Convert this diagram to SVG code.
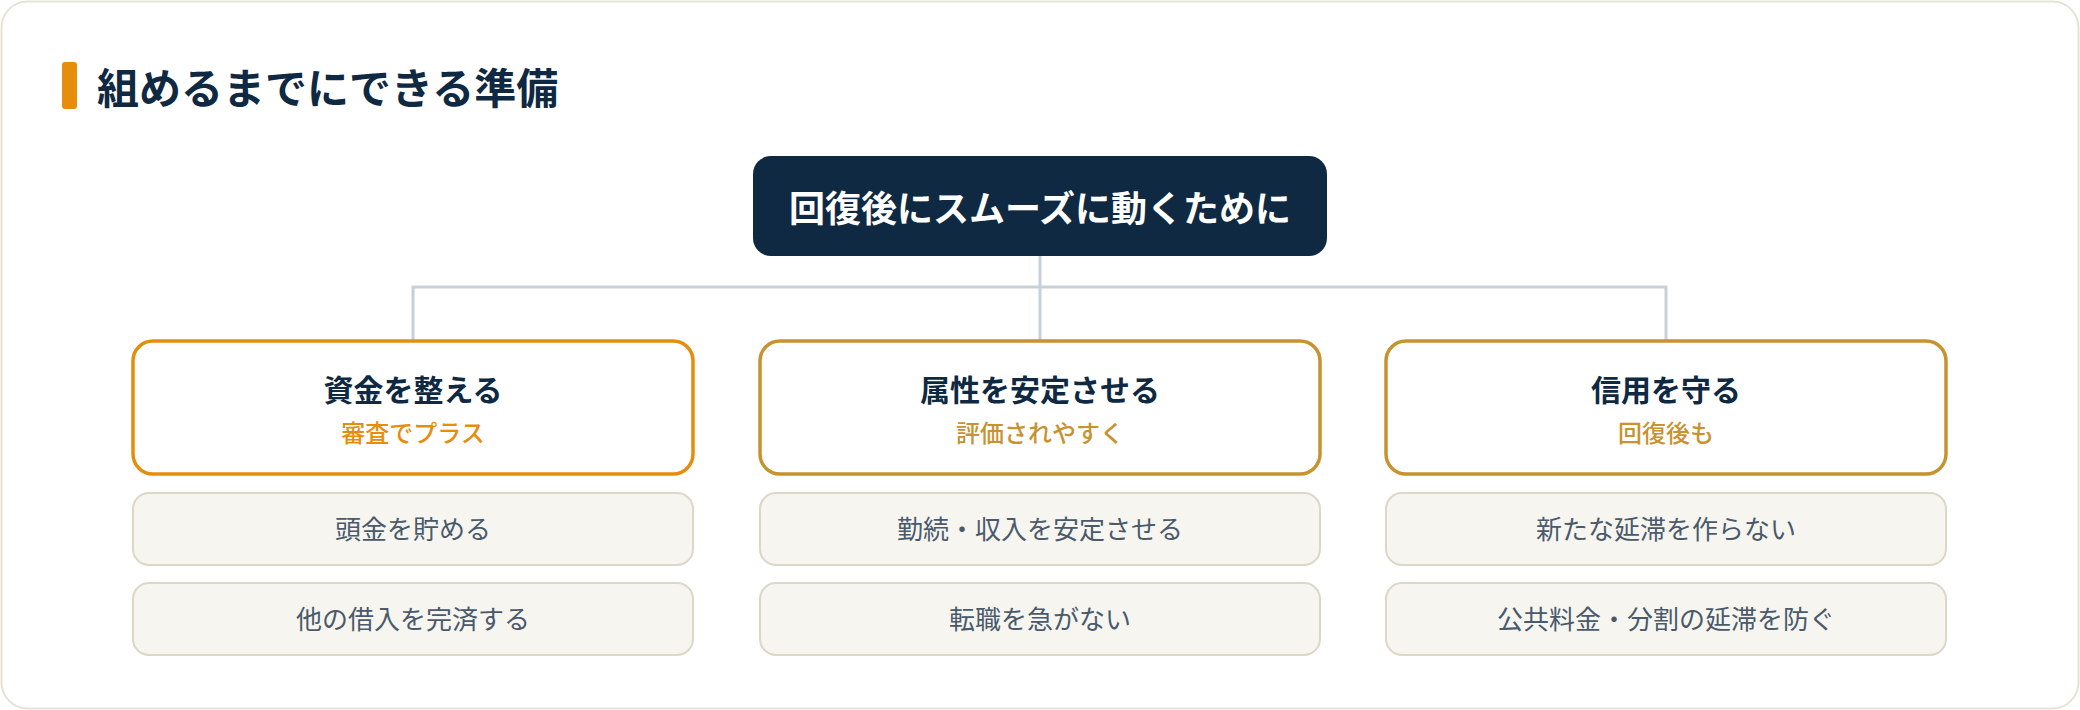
<svg xmlns="http://www.w3.org/2000/svg" width="2080" height="710" viewBox="0 0 2080 710">
<style>
text{font-family:"Noto Sans CJK JP","Noto Sans",sans-serif;text-anchor:middle}
.title{font-size:42px;font-weight:700;fill:#0f2942;text-anchor:start}
.root-t{font-size:36px;font-weight:700;fill:#ffffff}
.cat{fill:#ffffff;stroke-width:3.5}
.cat-t{font-size:30px;font-weight:700;fill:#0f2942}
.sub{font-size:24px;font-weight:500}
.item{fill:#f6f5f0;stroke:#dcd8c8;stroke-width:2}
.item-t{font-size:26px;font-weight:400;fill:#4a5a6b}
.conn{fill:none;stroke:#c9cfd8;stroke-width:3}
</style>
<rect x="1.5" y="1.5" width="2077" height="707" rx="26" fill="#ffffff" stroke="#e6e3d6" stroke-width="2"/>
<g id="heading">
<rect x="62" y="62" width="15" height="47" rx="3" fill="#e68d0c"/>
<text class="title" x="97" y="104">組めるまでにできる準備</text>
</g>
<g id="connectors">
<path class="conn" d="M1040 256 V287 M413 342 V287 H1666 V342 M1040 287 V342"/>
</g>
<g id="root">
<rect x="753" y="156" width="574" height="100" rx="18" fill="#0f2942"/>
<text class="root-t" x="1040" y="222">回復後にスムーズに動くために</text>
</g>
<g id="cat1">
<rect class="cat" x="133" y="341" width="560" height="133" rx="20" stroke="#e68d0c"/>
<text class="cat-t" x="413" y="401">資金を整える</text>
<text class="sub" x="413" y="442" fill="#e68d0c">審査でプラス</text>
</g>
<g id="cat2">
<rect class="cat" x="760" y="341" width="560" height="133" rx="20" stroke="#c8922f"/>
<text class="cat-t" x="1040" y="401">属性を安定させる</text>
<text class="sub" x="1040" y="442" fill="#c8922f">評価されやすく</text>
</g>
<g id="cat3">
<rect class="cat" x="1386" y="341" width="560" height="133" rx="20" stroke="#c8922f"/>
<text class="cat-t" x="1666" y="401">信用を守る</text>
<text class="sub" x="1666" y="442" fill="#c8922f">回復後も</text>
</g>
<g id="item1a">
<rect class="item" x="133" y="493" width="560" height="72" rx="16"/>
<text class="item-t" x="413" y="539">頭金を貯める</text>
</g>
<g id="item1b">
<rect class="item" x="133" y="583" width="560" height="72" rx="16"/>
<text class="item-t" x="413" y="629">他の借入を完済する</text>
</g>
<g id="item2a">
<rect class="item" x="760" y="493" width="560" height="72" rx="16"/>
<text class="item-t" x="1040" y="539">勤続・収入を安定させる</text>
</g>
<g id="item2b">
<rect class="item" x="760" y="583" width="560" height="72" rx="16"/>
<text class="item-t" x="1040" y="629">転職を急がない</text>
</g>
<g id="item3a">
<rect class="item" x="1386" y="493" width="560" height="72" rx="16"/>
<text class="item-t" x="1666" y="539">新たな延滞を作らない</text>
</g>
<g id="item3b">
<rect class="item" x="1386" y="583" width="560" height="72" rx="16"/>
<text class="item-t" x="1666" y="629">公共料金・分割の延滞を防ぐ</text>
</g>
</svg>
